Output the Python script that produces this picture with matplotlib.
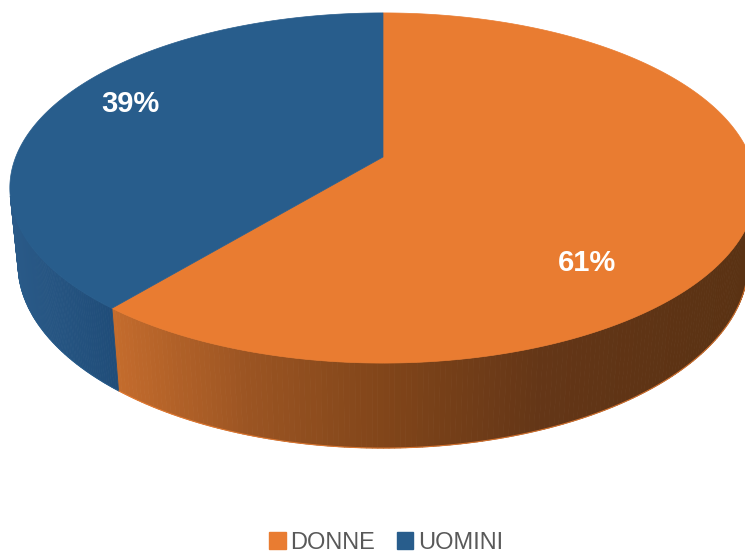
import numpy as np
import matplotlib
matplotlib.use("Agg")
import matplotlib.pyplot as plt
from matplotlib.patches import Polygon, Patch
from matplotlib.collections import PolyCollection
from matplotlib.colors import LinearSegmentedColormap

# data
labels = ["DONNE", "UOMINI"]
values = [61, 39]
top_colors = ["#E97C31", "#285D8C"]

# 3d view (fitted by eye to the picture)
cx, cy = 383.0, 157.0     # where the pie center lands, pixels
f = 1840.0
L = 5.01
phi = np.radians(27.5)
s, c = np.sin(phi), np.cos(phi)
thick = 0.234


def proj(th, y=0.0, r=1.0):
    x = r * np.sin(th)
    z = -r * np.cos(th)
    yc = y * c - z * s
    depth = L - (y * s + z * c)
    return cx + f * x / depth, cy - f * yc / depth


side_maps = [
    LinearSegmentedColormap.from_list("o", [(0, "#C46C2D"), (0.22, "#9A5422"), (0.45, "#7F4419"),
                                            (0.68, "#643617"), (1, "#5A3213")]),
    LinearSegmentedColormap.from_list("b", [(0, "#2A5A88"), (1, "#1F4C78")]),
]

fig = plt.figure(figsize=(7.45, 5.54), dpi=100)
ax = fig.add_axes([0, 0, 1, 1])
ax.set_xlim(0, 745)
ax.set_ylim(554, 0)
ax.axis("off")

total = sum(values)
bounds = np.concatenate([[0], np.cumsum(values)]) / total * 2 * np.pi

# outer walls, only the part facing the camera
for i in range(len(values)):
    a0, a1 = bounds[i], bounds[i + 1]
    ths = np.linspace(a0, a1, 300)
    quads, cols = [], []
    for t0, t1 in zip(ths[:-1], ths[1:]):
        tm = 0.5 * (t0 + t1)
        if -1 - L * c * np.cos(tm) <= 0:
            continue
        p = [proj(t0), proj(t1), proj(t1, -thick), proj(t0, -thick)]
        quads.append(p)
        xm = proj(tm)[0]
        if i == 0:
            u = (xm - 110) / (745 - 110)
        else:
            u = (xm - 10) / (117 - 10)
        cols.append(side_maps[i](np.clip(u, 0, 1)))
    if quads:
        pc = PolyCollection(quads, facecolors=cols, edgecolors=cols, linewidths=0.6)
        ax.add_collection(pc)
        # thin light rim along the bottom edge
        vis = [t for t in ths if -1 - L * c * np.cos(t) > 0]
        bx, by = zip(*[proj(t, -thick) for t in vis])
        ax.plot(bx, by, color=top_colors[i], lw=0.8, alpha=0.8)

# top faces
for i in range(len(values)):
    ths = np.linspace(bounds[i], bounds[i + 1], 300)
    pts = [(cx, cy)] + [proj(t) for t in ths]
    ax.add_patch(Polygon(pts, closed=True, facecolor=top_colors[i],
                         edgecolor=top_colors[i], lw=0.5))

# percentage labels
label_xy = [(587, 263), (130, 104)]
for v, (lx, ly) in zip(values, label_xy):
    ax.text(lx, ly, f"{v}%", color="white", fontsize=21, fontweight="bold",
            family="Liberation Sans", ha="center", va="center")

handles = [Patch(facecolor=col, edgecolor=col) for col in top_colors]
leg = fig.legend(handles, labels, loc="center", bbox_to_anchor=(386 / 745, 1 - 543 / 554),
                 ncol=2, frameon=False, handlelength=0.7, handleheight=0.7,
                 handletextpad=0.2, columnspacing=0.9,
                 prop={"family": "Liberation Sans", "size": 17})
for t in leg.get_texts():
    t.set_color("#595959")

fig.savefig("out.png", dpi=100)
